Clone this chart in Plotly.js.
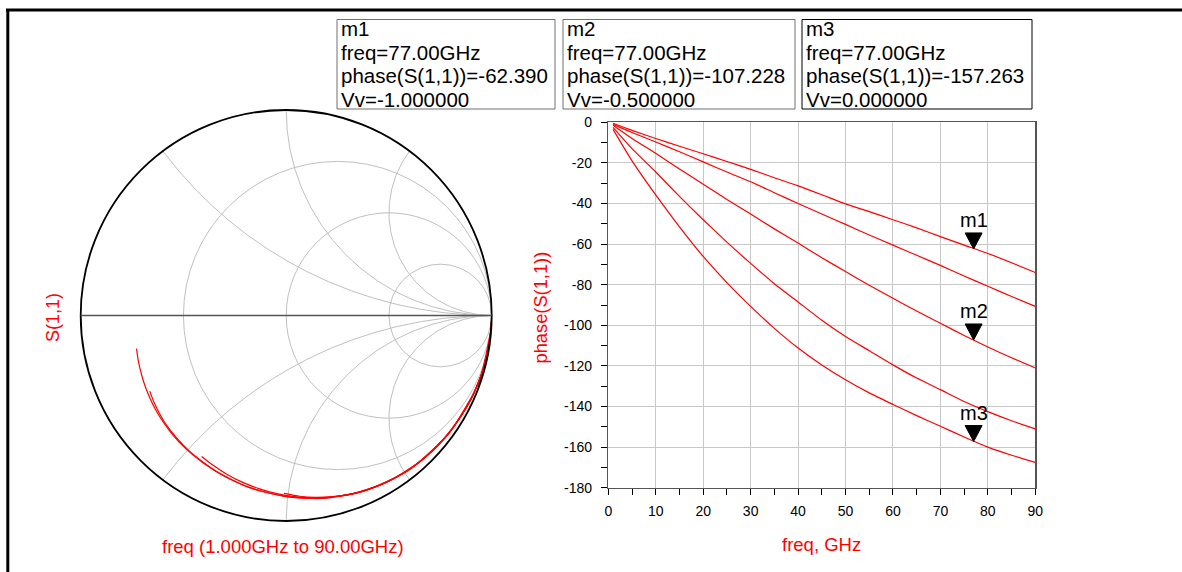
<!DOCTYPE html>
<html><head><meta charset="utf-8">
<script src="https://cdn.plot.ly/plotly-3.0.1.min.js"></script>
<style>html,body{margin:0;padding:0;background:#fff;overflow:hidden}#chart{width:1182px;height:572px}</style>
</head><body><div id="chart"></div>
<script>
const W = 1182, H = 572;

// ---------- data ----------
const freqGHz = [1,5,10,15,20,25,30,35,40,45,50,55,60,65,70,75,80,85,90];
const vvValues = [-1, -0.75, -0.5, -0.25, 0];
const phase_Vv_m1_00 = [-0.5,-4,-8,-11.8,-15.5,-19.3,-23.2,-27.3,-31.3,-35.7,-40.2,-44,-48,-52,-56.3,-60.5,-64.6,-69.2,-74];
const phase_Vv_m0_75 = [-1,-5,-9.7,-14.5,-19.5,-24.5,-29.3,-34.7,-40,-45.2,-50.3,-55.5,-60.5,-65.5,-70.5,-75.7,-80.8,-85.8,-90.7];
const phase_Vv_m0_50 = [-1.5,-8,-15.3,-23,-30.5,-38,-45.2,-52.5,-59.5,-66.7,-73.5,-80.3,-86.7,-93,-99,-105,-110.7,-116,-121];
const phase_Vv_m0_25 = [-2.5,-13,-24.5,-36.5,-48,-59,-69.5,-79.5,-88.5,-97.5,-105.5,-112.5,-119.5,-126,-131.7,-137.5,-142.5,-147,-151];
const phase_Vv_0_00  = [-3.5,-19,-35.8,-51.5,-66.1,-79,-90.7,-101.5,-111.2,-119.5,-126.8,-133.3,-139,-144.5,-149.7,-155,-160,-164,-167.5];
const mag_Vv_m1_00 = [1.0,0.999,0.998,0.997,0.994,0.99,0.988,0.984,0.981,0.977,0.973,0.969,0.964,0.959,0.952,0.945,0.937,0.927,0.915];
const mag_Vv_m0_75 = [1.0,0.999,0.998,0.995,0.99,0.987,0.982,0.977,0.972,0.966,0.96,0.952,0.943,0.933,0.923,0.91,0.897,0.882,0.866];
const mag_Vv_m0_50 = [1.0,0.998,0.994,0.988,0.981,0.974,0.966,0.957,0.945,0.932,0.916,0.9,0.884,0.868,0.853,0.838,0.824,0.811,0.80];
const mag_Vv_m0_25 = [1.0,0.996,0.987,0.976,0.963,0.947,0.927,0.905,0.884,0.864,0.848,0.834,0.82,0.81,0.8,0.79,0.779,0.769,0.759];
const mag_Vv_0_00  = [1.0,0.992,0.978,0.96,0.935,0.907,0.88,0.858,0.838,0.823,0.812,0.802,0.792,0.783,0.774,0.765,0.757,0.751,0.746];

const markerNames = ['m1','m2','m3'];
const markerFreq = [77, 77, 77];
const markerPhase = [-62.390, -107.228, -157.263];
const markerVv = [-1, -0.5, 0];

const xTickVals = [0,10,20,30,40,50,60,70,80,90];
const xTickText = ['0','10','20','30','40','50','60','70','80','90'];
const yTickVals = [0,-20,-40,-60,-80,-100,-120,-140,-160,-180];
const yTickText = ['0','-20','-40','-60','-80','-100','-120','-140','-160','-180'];
const smithResistance = [0.3333, 1, 3];
const smithReactance = [-2, -1, -0.5, 0.5, 1, 2];

const phaseSeries = [phase_Vv_m1_00, phase_Vv_m0_75, phase_Vv_m0_50, phase_Vv_m0_25, phase_Vv_0_00];
const magSeries = [mag_Vv_m1_00, mag_Vv_m0_75, mag_Vv_m0_50, mag_Vv_m0_25, mag_Vv_0_00];

// ---------- helpers ----------
const FONT = 'Liberation Sans, Arial, sans-serif';
const RED = '#ff0000';
const px = x => x / W;
const py = y => 1 - y / H;

function gammaToZ(mag, deg) {
  const t = deg * Math.PI / 180;
  const gr = mag * Math.cos(t), gi = mag * Math.sin(t);
  const a = 1 + gr, b = gi, c = 1 - gr, d = -gi;
  const den = c * c + d * d;
  return [(a * c + b * d) / den, (b * c - a * d) / den];
}

const traces = [];
phaseSeries.forEach((ph, i) => {
  traces.push({
    type: 'scatter', mode: 'lines', x: freqGHz, y: ph, xaxis: 'x', yaxis: 'y',
    line: {color: RED, width: 1.2, shape: 'spline', smoothing: 0.6},
    name: 'Vv=' + vvValues[i], showlegend: false, hoverinfo: 'skip'
  });
});
magSeries.forEach((mg, i) => {
  const re = [], im = [];
  mg.forEach((m, k) => { const z = gammaToZ(m, phaseSeries[i][k]); re.push(z[0]); im.push(z[1]); });
  traces.push({
    type: 'scattersmith', mode: 'lines', real: re, imag: im, subplot: 'smith',
    line: {color: RED, width: 1.2, shape: 'spline', smoothing: 0.6},
    showlegend: false, hoverinfo: 'skip'
  });
});

// ---------- layout ----------
const shapes = [
  {type: 'line', xref: 'paper', yref: 'paper', x0: px(6), x1: 1, y0: py(10), y1: py(10), line: {color: '#000', width: 3}},
  {type: 'line', xref: 'paper', yref: 'paper', x0: px(7.8), x1: px(7.8), y0: py(9), y1: 0, line: {color: '#000', width: 3}}
];
const boxes = [[337, 555], [563, 795], [802, 1032]];
const boxColors = ['#707070', '#707070', '#000000'];
const annotations = [];
markerNames.forEach((nm, i) => {
  shapes.push({type: 'rect', xref: 'paper', yref: 'paper', x0: px(boxes[i][0]), x1: px(boxes[i][1]), y0: py(19.5), y1: py(109),
    line: {color: boxColors[i], width: 1}, fillcolor: 'rgba(0,0,0,0)'});
  const lines = [nm, 'freq=' + markerFreq[i].toFixed(2) + 'GHz', 'phase(S(1,1))=' + markerPhase[i].toFixed(3), 'Vv=' + markerVv[i].toFixed(6)];
  const ys = [28.5, 52, 75.5, 99];
  lines.forEach((t, j) => {
    annotations.push({xref: 'paper', yref: 'paper', x: px(boxes[i][0] + 2), y: py(ys[j]), xanchor: 'left', yanchor: 'middle',
      text: t, showarrow: false, font: {family: FONT, size: 20.5, color: '#000'}});
  });
  // marker triangle on the curve
  shapes.push({type: 'path', xref: 'x', yref: 'y', xsizemode: 'pixel', ysizemode: 'pixel',
    xanchor: markerFreq[i], yanchor: markerPhase[i], path: 'M-8.5,16L8.5,16L0,0Z',
    fillcolor: '#000', line: {color: '#000', width: 1}});
  annotations.push({xref: 'x', yref: 'y', x: markerFreq[i], y: markerPhase[i], xanchor: 'center', yanchor: 'bottom', yshift: 16,
    text: nm, showarrow: false, font: {family: FONT, size: 20, color: '#000'}});
});

annotations.push(
  {xref: 'paper', yref: 'paper', x: px(52.5), y: py(317.5), xanchor: 'center', yanchor: 'middle', text: 'S(1,1)', textangle: -90, showarrow: false,
    font: {family: FONT, size: 18, color: RED}},
  {xref: 'paper', yref: 'paper', x: px(282.5), y: py(546.7), xanchor: 'center', yanchor: 'middle', text: 'freq (1.000GHz to 90.00GHz)', showarrow: false,
    font: {family: FONT, size: 18.5, color: RED}},
  {xref: 'paper', yref: 'paper', x: px(540), y: py(307.5), xanchor: 'center', yanchor: 'middle', text: 'phase(S(1,1))', textangle: -90, showarrow: false,
    font: {family: FONT, size: 18.3, color: RED}},
  {xref: 'paper', yref: 'paper', x: px(821.8), y: py(544), xanchor: 'center', yanchor: 'middle', text: 'freq, GHz', showarrow: false,
    font: {family: FONT, size: 18.5, color: RED}}
);

const layout = {
  width: W, height: H,
  margin: {l: 0, r: 0, t: 0, b: 0},
  paper_bgcolor: '#fff', plot_bgcolor: '#fff',
  showlegend: false, hovermode: false,
  font: {family: FONT},
  xaxis: {
    domain: [px(608.3), px(1035.3)], range: [0, 90], anchor: 'y',
    tickmode: 'array', tickvals: xTickVals, ticktext: xTickText,
    ticks: 'outside', ticklen: 6, tickwidth: 1, tickcolor: '#000', ticklabelstandoff: 4,
    showline: true, linecolor: '#555', linewidth: 1.5, mirror: true,
    showgrid: true, gridcolor: '#c8c8c8', gridwidth: 1, zeroline: false,
    minor: {dtick: 5, tick0: 0, ticks: 'outside', ticklen: 6, tickwidth: 1, tickcolor: '#000', showgrid: false},
    tickfont: {family: FONT, size: 14, color: '#000'}, fixedrange: true
  },
  yaxis: {
    domain: [py(487.7), py(122.3)], range: [-180, 0], anchor: 'x',
    tickmode: 'array', tickvals: yTickVals, ticktext: yTickText,
    ticks: 'outside', ticklen: 6, tickwidth: 1, tickcolor: '#000', ticklabelstandoff: 6,
    showline: true, linecolor: '#555', linewidth: 1.5, mirror: true,
    showgrid: true, gridcolor: '#c8c8c8', gridwidth: 1, zeroline: false,
    minor: {dtick: 10, tick0: 0, ticks: 'outside', ticklen: 6, tickwidth: 1, tickcolor: '#000', showgrid: false},
    tickfont: {family: FONT, size: 14, color: '#000'}, fixedrange: true
  },
  smith: {
    domain: {x: [px(80.7), px(491.7)], y: [py(521), py(110)]},
    bgcolor: '#fff',
    realaxis: {tickvals: smithResistance, showticklabels: false, ticks: '', showline: true, linecolor: '#555', linewidth: 1.5,
      showgrid: true, gridcolor: '#c0c0c0', gridwidth: 1},
    imaginaryaxis: {tickvals: smithReactance, showticklabels: false, ticks: '', showline: true, linecolor: '#000', linewidth: 1.8,
      showgrid: true, gridcolor: '#c0c0c0', gridwidth: 1}
  },
  shapes: shapes,
  annotations: annotations
};

Plotly.newPlot('chart', traces, layout, {staticPlot: true, displayModeBar: false});
</script>
</body></html>
